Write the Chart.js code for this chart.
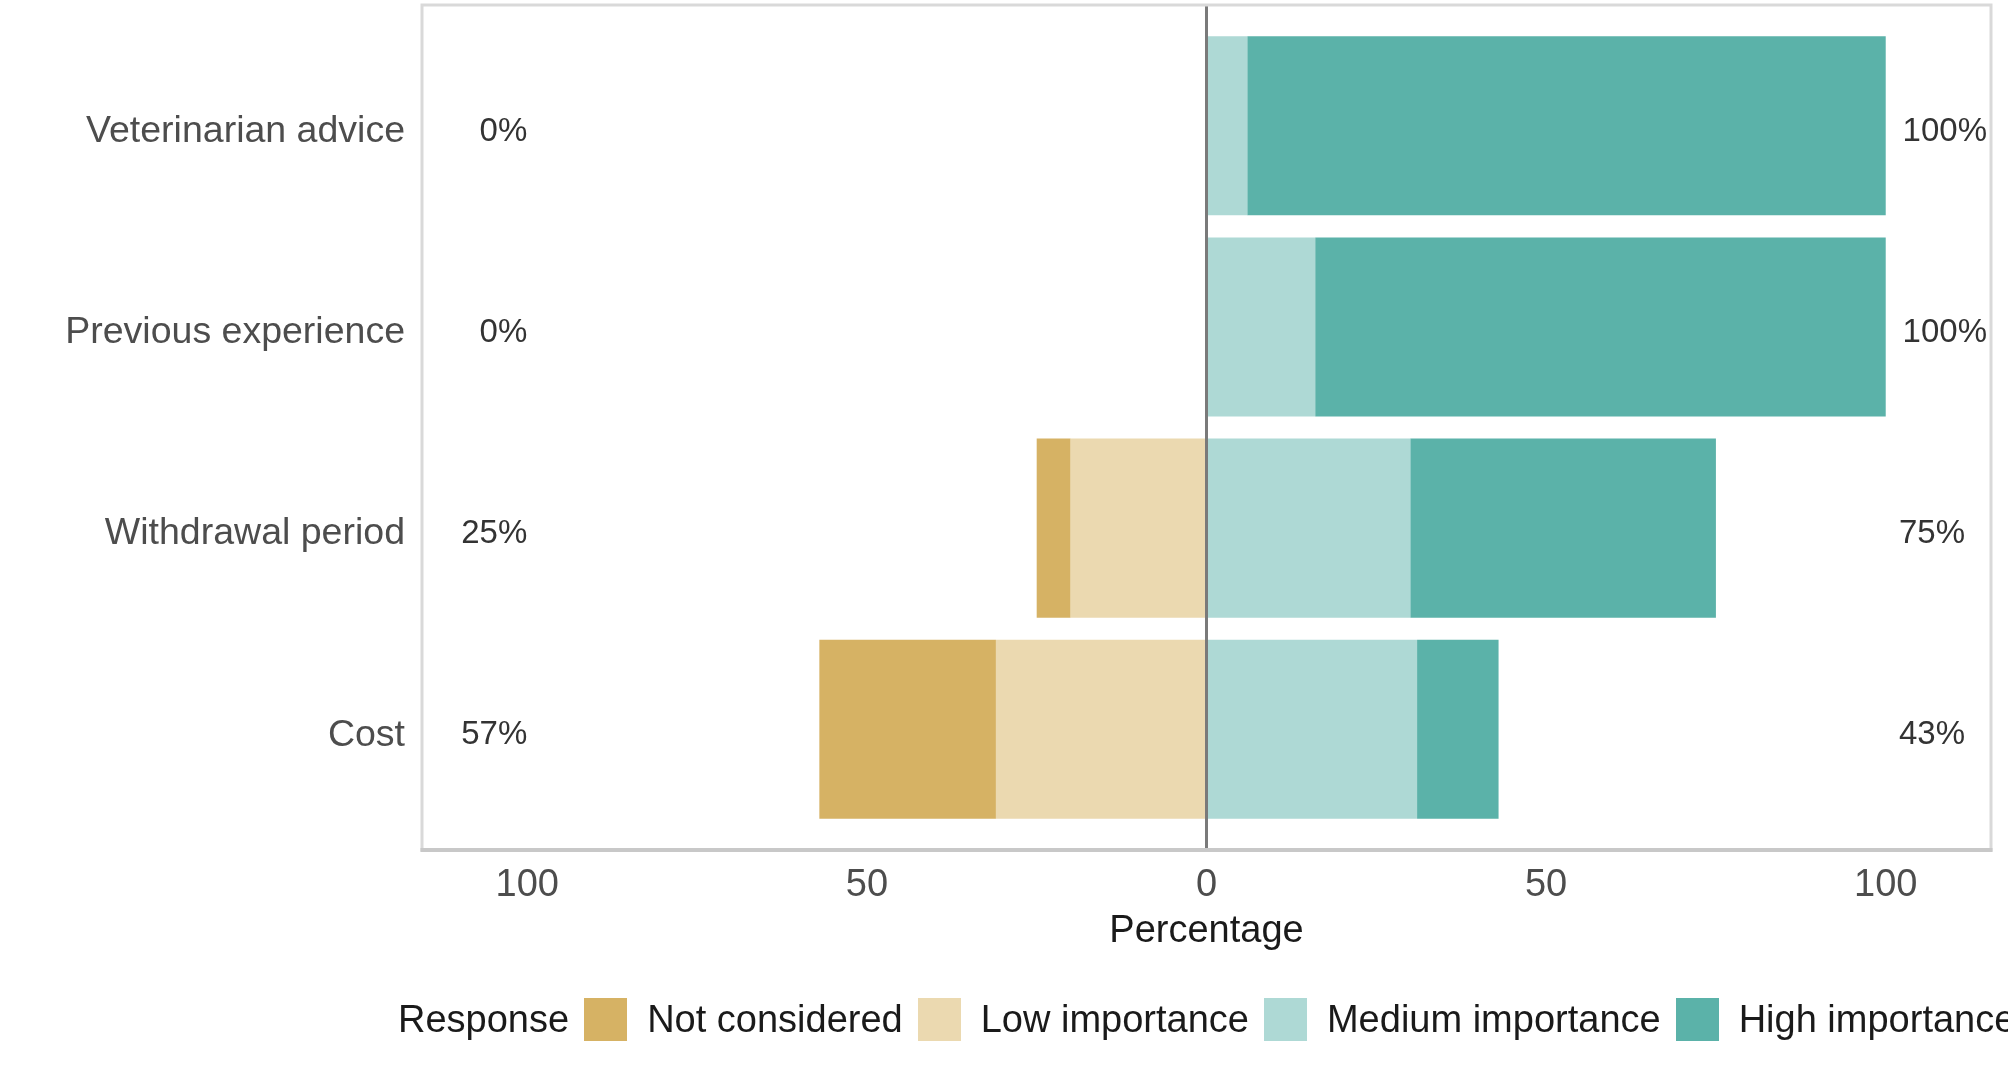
<!DOCTYPE html>
<html>
<head>
<meta charset="utf-8">
<script src="https://cdn.jsdelivr.net/npm/chart.js@4.4.1/dist/chart.umd.min.js"></script>
<style>
  html, body { margin: 0; padding: 0; background: #fff; overflow: hidden; }
  #wrap { position: relative; width: 2008px; height: 1068px; }
  #legend {
    position: absolute; left: 398px; top: 995px; height: 48px;
    display: flex; align-items: center; white-space: nowrap;
    font-family: 'Liberation Sans', Arial, sans-serif; font-size: 38px; color: #1a1a1a;
  }
  #legend .box { width: 43px; height: 43px; margin: 0 20px 0 15px; }
</style>
</head>
<body>
<div id="wrap">
  <canvas id="likertChart" width="2008" height="1068"></canvas>
  <div id="legend"></div>
</div>
<script>
const categories = ['Veterinarian advice', 'Previous experience', 'Withdrawal period', 'Cost'];
const responses = ['Not considered', 'Low importance', 'Medium importance', 'High importance'];
const notConsidered = [0, 0, 5, 26];
const lowImportance = [0, 0, 20, 31];
const mediumImportance = [6, 16, 30, 31];
const highImportance = [94, 84, 45, 12];
const xTicks = [-100, -50, 0, 50, 100];
const colors = ['#d6b264', '#ebd9b0', '#aed9d5', '#5bb2a9'];

const toPoints = (arr, sign) => arr.map((v, i) => ({ x: sign * v, y: i + 1 }));
const lowPct = categories.map((c, i) => Math.round(notConsidered[i] + lowImportance[i]));
const highPct = categories.map((c, i) => Math.round(mediumImportance[i] + highImportance[i]));

Chart.defaults.font.family = "'Liberation Sans', Arial, sans-serif";

// panel border + percentage labels at both ends
const panelPlugin = {
  id: 'panel',
  afterDatasetsDraw(chart) {
    const { ctx, chartArea: a, scales } = chart;
    ctx.save();
    ctx.strokeStyle = '#d9d9d9';
    ctx.lineWidth = 3;
    ctx.strokeRect(a.left, a.top, a.right - a.left, a.bottom - a.top);
    ctx.strokeStyle = '#c8c8c8';
    ctx.lineWidth = 4;
    ctx.beginPath();
    ctx.moveTo(a.left - 1.5, a.bottom);
    ctx.lineTo(a.right + 1.5, a.bottom);
    ctx.stroke();

    ctx.font = "33px 'Liberation Sans', Arial, sans-serif";
    ctx.fillStyle = '#333333';
    ctx.textBaseline = 'middle';
    categories.forEach((c, i) => {
      const y = scales.y.getPixelForValue(i + 1) + 6;
      ctx.textAlign = 'right';
      ctx.fillText(lowPct[i] + '%', scales.x.getPixelForValue(-100), y);
      const txt = highPct[i] + '%';
      const w = ctx.measureText(txt).width;
      ctx.textAlign = 'left';
      ctx.fillText(txt, scales.x.getPixelForValue(100) + 0.2 * w, y);
    });
    ctx.restore();
  }
};

const ctx = document.getElementById('likertChart').getContext('2d');
new Chart(ctx, {
  type: 'bar',
  data: {
    datasets: [
      { label: responses[1], data: toPoints(lowImportance, -1), backgroundColor: colors[1] },
      { label: responses[0], data: toPoints(notConsidered, -1), backgroundColor: colors[0] },
      { label: responses[2], data: toPoints(mediumImportance, 1), backgroundColor: colors[2] },
      { label: responses[3], data: toPoints(highImportance, 1), backgroundColor: colors[3] }
    ].map(d => Object.assign(d, { stack: 'likert', borderWidth: 0, categoryPercentage: 0.89, barPercentage: 1 }))
  },
  options: {
    indexAxis: 'y',
    responsive: false,
    animation: false,
    devicePixelRatio: 1,
    layout: { padding: { top: 5, right: 17, left: 0, bottom: 0 } },
    plugins: { legend: { display: false }, tooltip: { enabled: false } },
    scales: {
      x: {
        type: 'linear',
        stacked: true,
        offset: false,
        min: -115.5,
        max: 115.5,
        afterBuildTicks: s => { s.ticks = xTicks.map(v => ({ value: v })); },
        afterFit: s => { s.height = 218; s.paddingLeft = 0; s.paddingRight = 0; },
        border: { display: false },
        grid: {
          offset: false,
          drawTicks: false,
          lineWidth: 3,
          color: c => (c.tick && c.tick.value === 0 ? '#7a7a7a' : 'rgba(0,0,0,0)')
        },
        ticks: {
          padding: 13,
          color: '#4d4d4d',
          font: { size: 38 },
          callback: v => Math.abs(v)
        },
        title: {
          display: true,
          text: 'Percentage',
          color: '#1a1a1a',
          font: { size: 38 },
          padding: { top: 0, bottom: 114 }
        }
      },
      y: {
        type: 'linear',
        reverse: true,
        offset: false,
        min: 0.4,
        max: 4.6,
        afterBuildTicks: s => { s.ticks = categories.map((c, i) => ({ value: i + 1 })); },
        afterFit: s => { s.width = 422; s.paddingTop = 0; s.paddingBottom = 0; },
        border: { display: false },
        grid: { display: false, drawTicks: false, offset: false },
        ticks: {
          padding: 17,
          labelOffset: 6,
          color: '#4d4d4d',
          font: { size: 37.5 },
          callback: v => categories[v - 1]
        }
      }
    }
  },
  plugins: [panelPlugin]
});

// legend with inline "Response" title
const legend = document.getElementById('legend');
const title = document.createElement('span');
title.textContent = 'Response';
legend.appendChild(title);
responses.forEach((r, i) => {
  const box = document.createElement('span');
  box.className = 'box';
  box.style.background = colors[i];
  legend.appendChild(box);
  const t = document.createElement('span');
  t.textContent = r;
  legend.appendChild(t);
});
</script>
</body>
</html>
